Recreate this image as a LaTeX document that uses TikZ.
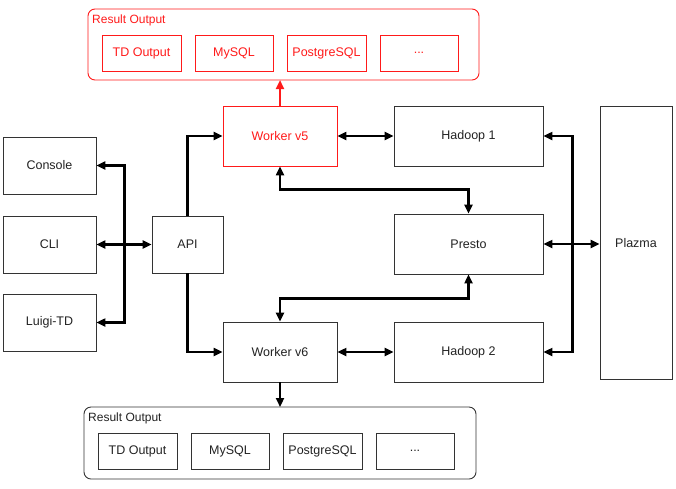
\documentclass[tikz,border=0pt]{standalone}
\usepackage{fontspec}
\setmainfont{Liberation Sans}
\usetikzlibrary{arrows.meta}
\definecolor{boxline}{HTML}{333333}
\definecolor{txt}{HTML}{222222}
\definecolor{hot}{HTML}{FF1A1A}
\tikzset{
  box/.style={draw=boxline, line width=0.9pt, inner sep=0pt, font=\fontsize{12.5}{14}\selectfont, text=txt},
  hotbox/.style={box, draw=hot, text=hot},
  container/.style={draw=boxline, line width=0.9pt, rounded corners=7pt},
  hotcontainer/.style={container, draw=hot},
  clabel/.style={anchor=west, inner sep=0pt, font=\fontsize{12}{14}\selectfont, text=txt},
  conn/.style={line width=2.2pt, draw=black},
  arr/.style={conn, -{Triangle[length=9pt,width=8pt]}},
  darr/.style={conn, {Triangle[length=9pt,width=8pt]}-{Triangle[length=9pt,width=8pt]}},
}
\begin{document}
\begin{tikzpicture}[x=1pt,y=-1pt]
\useasboundingbox (0,0) rectangle (676,488);
% top result output
\draw[hotcontainer] (88,9) rectangle (479,80);
\node[clabel, text=hot] (toplab) at (92,20) {Result Output};
\coordinate (topcs) at (283,80);
\node[hotbox, minimum width=79pt, minimum height=36pt] (ttd) at (141.5,53) {TD Output};
\node[hotbox, minimum width=78pt, minimum height=36pt] (tmy) at (234,53) {MySQL};
\node[hotbox, minimum width=79pt, minimum height=36pt] (tpg) at (326.5,53) {PostgreSQL};
\node[hotbox, minimum width=78pt, minimum height=36pt] (tdot) at (419,53) {...};
% bottom result output
\draw[container] (84,407) rectangle (476,479);
\node[clabel] (botlab) at (88,418) {Result Output};
\coordinate (botcn) at (280,407);
\node[box, minimum width=79pt, minimum height=36pt] (btd) at (137.5,451) {TD Output};
\node[box, minimum width=78pt, minimum height=36pt] (bmy) at (230,451) {MySQL};
\node[box, minimum width=79pt, minimum height=36pt] (bpg) at (322.5,451) {PostgreSQL};
\node[box, minimum width=78pt, minimum height=36pt] (bdot) at (415,451) {...};
% clients
\node[box, minimum width=93pt, minimum height=57pt] (console) at (49.5,165.5) {Console};
\node[box, minimum width=93pt, minimum height=57pt] (cli) at (49.5,244.5) {CLI};
\node[box, minimum width=93pt, minimum height=57pt] (luigi) at (49.5,322.5) {Luigi-TD};
\node[box, minimum width=71pt, minimum height=57pt] (api) at (187.5,244.5) {API};
% workers
\node[hotbox, minimum width=114pt, minimum height=60pt] (w5) at (280,136) {Worker v5};
\node[box, minimum width=114pt, minimum height=60pt] (w6) at (280,352) {Worker v6};
\node[box, minimum width=149pt, minimum height=60pt] (h1) at (468.5,136) {Hadoop 1};
\node[box, minimum width=149pt, minimum height=60pt] (presto) at (468.5,244) {Presto};
\node[box, minimum width=149pt, minimum height=60pt] (h2) at (468.5,352) {Hadoop 2};
\node[box, minimum width=72pt, minimum height=273pt] (plazma) at (636,243) {Plazma};
% connectors
\draw[arr, draw=hot] (w5.north) -- (w5.north |- topcs);
\draw[arr] (w6.south) -- (botcn);
\draw[darr] (console.east) -- ++(28,0) |- (luigi.east);
\draw[darr] (cli.east) -- (api.west);
\draw[arr] (api.north) |- (w5.west);
\draw[arr] (api.south) |- (w6.west);
\draw[darr] (w5.east) -- (h1.west);
\draw[darr] (w6.east) -- (h2.west);
\draw[darr] (w5.south) -- ++(0,23) -| (presto.north);
\draw[darr] (presto.south) -- ++(0,24) -| (w6.north);
\draw[darr] (h1.east) -- ++(29,0) |- (h2.east);
\draw[darr] (presto.east) -- (presto.east -| plazma.west);
\end{tikzpicture}
\end{document}
